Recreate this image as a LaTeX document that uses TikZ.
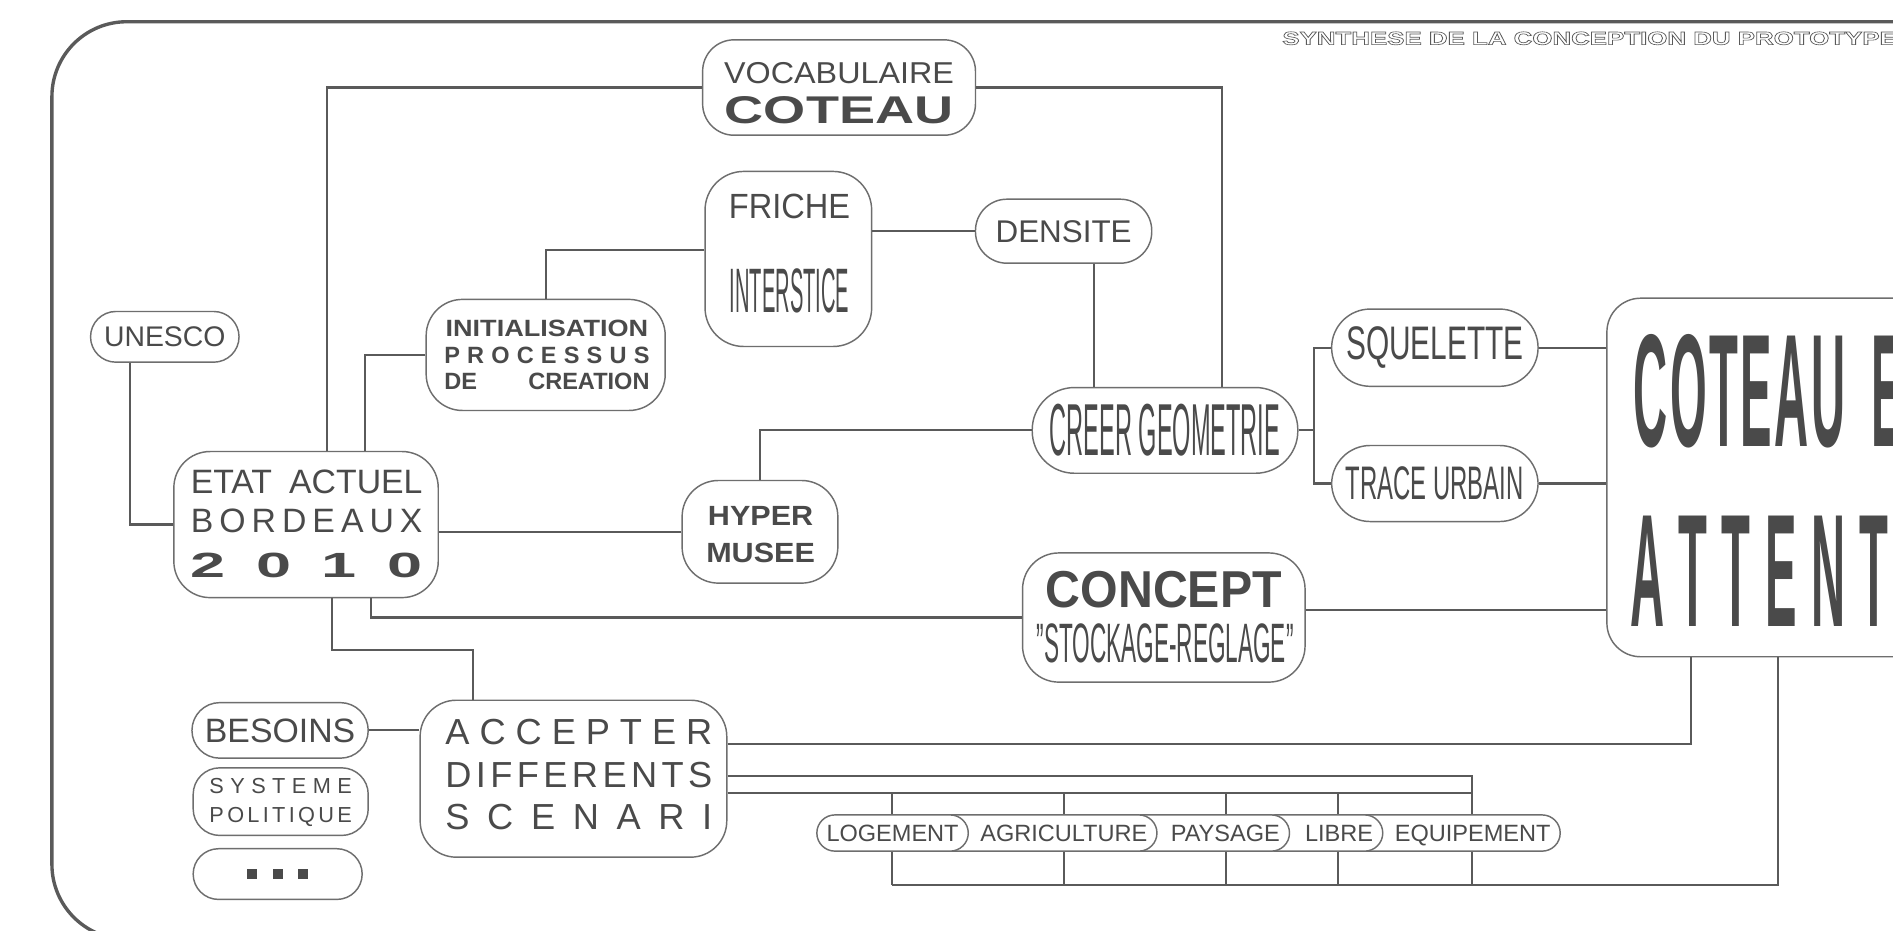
\documentclass[tikz,border=0pt]{standalone}
\usepackage{fontspec}
\setmainfont{Liberation Sans}
\usepackage{graphicx}
\usetikzlibrary{calc}
\definecolor{txtc}{HTML}{4A4A4A}
\definecolor{linec}{HTML}{5A5A5A}
\definecolor{boxc}{HTML}{6E6E6E}
\newcommand{\fz}[1]{\fontsize{#1}{#1}\selectfont}
\newcommand{\cx}[2]{\scalebox{#1}[1]{#2}}
\newcommand{\wdg}[1]{\scalebox{1.8}[1]{#1}}
\newcommand{\ctl}[1]{\scalebox{0.294}[1]{#1}}
\newcommand{\spr}[2]{\makebox[#1]{#2}}
\begin{document}
\begin{tikzpicture}[x=1pt,y=-1pt,
  box/.style={draw=boxc, line width=1.2pt, fill=white, inner sep=0pt, rounded corners=#1, text=txtc},
  box/.default=28pt,
  lbl/.style={inner sep=0pt, anchor=base, text=txtc},
  conn/.style={draw=linec, line width=1.8pt},
  frame/.style={draw=linec, line width=2.8pt},
  pill/.style={draw=boxc, line width=1.2pt, fill=white, rounded corners=15pt, minimum height=30pt, inner xsep=8pt, inner ysep=0pt, text height=14pt, text depth=0pt, anchor=west, font=\fz{19.5}, text=txtc}]
\useasboundingbox (0,0) rectangle (1568,771);
\clip (0,0) rectangle (1568,771);
\fill[white] (0,0) rectangle (1568,771);

% outer frame and title
\draw[frame, rounded corners=62pt] (43,18) rectangle (1700,778);
\node[lbl, anchor=base west, font=\bfseries\fz{15.3}, text=linec] (title) at (1062,37)
  {\special{pdf:literal direct 1 Tr 0.5 w}\cx{1.4}{SYNTHESE DE LA CONCEPTION DU PROTOTYPE}\special{pdf:literal direct 0 Tr}};

% boxes
\node[box=21pt, minimum width=123pt, minimum height=42pt, font=\fz{23.5}] (unesco) at (136.5,279) {UNESCO};

\node[box=26pt, minimum width=226pt, minimum height=79pt] (voc) at (695,72.5) {};
\node[lbl, font=\fz{25}] (voc1) at (695,69) {\cx{1.07}{VOCABULAIRE}};
\node[lbl, font=\bfseries\fz{32}] (voc2) at (695,102) {\cx{1.4}{COTEAU}};

\node[box=32pt, minimum width=138pt, minimum height=145pt] (friche) at (653,214.5) {};
\node[lbl, font=\fz{29}] (friche1) at (654,181) {\cx{0.93}{FRICHE}};
\node[lbl, font=\fz{52}] (friche2) at (654,259) {\cx{0.32}{INTERSTICE}};

\node[box=26pt, minimum width=146pt, minimum height=53pt, font=\fz{26}] (densite) at (881,191.5) {DENSITE};

\node[box=30pt, minimum width=198pt, minimum height=92pt] (init) at (452,294) {};
\node[lbl, font=\bfseries\fz{19.5}] (init1) at (453,279) {\cx{1.15}{INITIALISATION}};
\node[lbl, font=\bfseries\fz{19.5}] (init2) at (453,301) {\spr{170pt}{P\hfill R\hfill O\hfill C\hfill E\hfill S\hfill S\hfill U\hfill S}};
\node[lbl, font=\bfseries\fz{19.5}] (init3) at (453,323) {\spr{170pt}{DE\hfill CREATION}};

\node[box=30pt, minimum width=219pt, minimum height=121pt] (etat) at (253.5,434.5) {};
\node[lbl, font=\fz{28}] (etat1) at (254,409) {\spr{192pt}{ETAT\hfill ACTUEL}};
\node[lbl, font=\fz{28}] (etat2) at (254,441) {\spr{192pt}{B\hfill O\hfill R\hfill D\hfill E\hfill A\hfill U\hfill X}};
\node[lbl, font=\bfseries\fz{29}] (etat3) at (254,478) {\spr{192pt}{\wdg{2}\hfill\wdg{0}\hfill\wdg{1}\hfill\wdg{0}}};

\node[box=30pt, minimum width=129pt, minimum height=85pt] (hyper) at (629.5,440.5) {};
\node[lbl, font=\bfseries\fz{23}] (hyper1) at (630,435) {\cx{1.1}{HYPER}};
\node[lbl, font=\bfseries\fz{23}] (hyper2) at (630,466) {\cx{1.1}{MUSEE}};

\node[box=35pt, minimum width=220pt, minimum height=71pt, font=\fz{61}] (creer) at (965,356.5) {\cx{0.32}{CREER GEOMETRIE}};

\node[box=32pt, minimum width=171pt, minimum height=64pt, font=\fz{39}] (sq) at (1188.5,288) {\cx{0.634}{SQUELETTE}};
\node[box=32pt, minimum width=171pt, minimum height=63pt, font=\fz{39}] (tr) at (1188.5,400.5) {\cx{0.507}{TRACE URBAIN}};

\node[box=30pt, minimum width=234pt, minimum height=107pt] (concept) at (964,511.5) {};
\node[lbl, font=\bfseries\fz{43}] (concept1) at (964,503) {\cx{0.93}{CONCEPT}};
\node[lbl, font=\fz{46}] (concept2) at (965,549) {\cx{0.407}{"STOCKAGE-REGLAGE"}};

\node[box=28pt, minimum width=400pt, minimum height=297pt] (coteau) at (1531,395.5) {};
\node[lbl, anchor=base west, font=\bfseries\fz{133}] (coteau1) at (1353,370)
  {\ctl{C}\hspace{2pt}\ctl{O}\hspace{2pt}\ctl{T}\hspace{2pt}\ctl{E}\hspace{2pt}\ctl{A}\hspace{2pt}\ctl{U}\hspace{22pt}\ctl{EN}};
\node[lbl, anchor=base west, font=\bfseries\fz{133}] (coteau2) at (1350,519)
  {\ctl{A}\hspace{12pt}\ctl{T}\hspace{12pt}\ctl{T}\hspace{12pt}\ctl{E}\hspace{12pt}\ctl{N}\hspace{12pt}\ctl{T}\hspace{12pt}\ctl{E}};

\node[box=30pt, minimum width=254pt, minimum height=130pt] (accept) at (475,645) {};
\node[lbl, font=\fz{30}] (accept1) at (479.5,617) {\spr{221pt}{A\hfill C\hfill C\hfill E\hfill P\hfill T\hfill E\hfill R}};
\node[lbl, font=\fz{30}] (accept2) at (479.5,652) {\spr{221pt}{D\hfill I\hfill F\hfill F\hfill E\hfill R\hfill E\hfill N\hfill T\hfill S}};
\node[lbl, font=\fz{30}] (accept3) at (479.5,687) {\spr{221pt}{S\hfill C\hfill E\hfill N\hfill A\hfill R\hfill I}};

\node[box=23pt, minimum width=146pt, minimum height=46pt, font=\fz{28}] (besoins) at (232,605) {BESOINS};
\node[box=22pt, minimum width=145pt, minimum height=56pt] (systeme) at (232.5,664) {};
\node[lbl, font=\fz{18}] (systeme1) at (232.5,657.5) {\spr{118pt}{S\hfill Y\hfill S\hfill T\hfill E\hfill M\hfill E}};
\node[lbl, font=\fz{18}] (systeme2) at (232.5,681.5) {\spr{118pt}{P\hfill O\hfill L\hfill I\hfill T\hfill I\hfill Q\hfill U\hfill E}};
\node[box=21pt, minimum width=140pt, minimum height=42pt] (dots) at (230,724)
  {\color{txtc}\rule{8pt}{8pt}\hspace{13pt}\rule{8pt}{8pt}\hspace{13pt}\rule{8pt}{8pt}};

% helper coordinates
\coordinate (et1) at ($(etat.north)+(17.5,0)$);
\coordinate (et2) at ($(etat.north)+(48.5,0)$);
\coordinate (eb1) at ($(etat.south)+(21.5,0)$);
\coordinate (eb2) at ($(etat.south)+(53.5,0)$);
\coordinate (cr1) at ($(creer.north)+(47,0)$);
\coordinate (dn) at ($(densite.south)+(25,0)$);
\coordinate (fw) at ($(friche.west)+(0,-7.5)$);
\coordinate (us) at ($(unesco.south)+(-28.5,0)$);
\coordinate (an) at ($(accept.north)+(-83,0)$);
\coordinate (ae1) at ($(accept.east)+(0,-29)$);
\coordinate (ae2) at ($(accept.east)+(0,-2)$);
\coordinate (ae3) at ($(accept.east)+(0,12)$);
\coordinate (ce) at ($(concept.east)+(0,-6.5)$);
\coordinate (cb1) at ($(coteau.south)+(-130,0)$);
\coordinate (cb2) at ($(coteau.south)+(-58,0)$);
\coordinate (t1) at (738.7,733);
\coordinate (t2) at (881.3,733);
\coordinate (t3) at (1015.8,733);
\coordinate (t4) at (1108.6,733);
\coordinate (t5) at (1219.3,733);

% connectors
\draw[conn] (voc.west) -| (et1);
\draw[conn] (voc.east) -| (cr1);
\draw[conn] (fw) -| (init.north);
\draw[conn] (densite.west) -- (densite.west -| friche.east);
\draw[conn] (dn) -- (dn |- creer.north);
\draw[conn] (init.west) -| (et2);
\draw[conn] (us) |- (etat.west);
\draw[conn] (hyper.west) -- (hyper.west -| etat.east);
\draw[conn] (hyper.north) |- (creer.west);
\draw[conn] (eb2) |- (concept.west);
\draw[conn] (eb1) -- ++(0,43) -| (an);
\draw[conn] (creer.east) -- ++(13,0) coordinate (br);
\draw[conn] (sq.west) -| (br) |- (tr.west);
\draw[conn] (sq.east) -- (sq.east -| coteau.west);
\draw[conn] (tr.east) -- (tr.east -| coteau.west);
\draw[conn] (ce) -- (ce -| coteau.west);
\draw[conn] (besoins.east) -- (besoins.east -| accept.west);
\draw[conn] (ae1) -| (cb1);
\draw[conn] (ae2) -- (ae2 -| t5) -- (ae3 -| t5);
\draw[conn] (ae3) -- (ae3 -| t5);
\foreach \t in {t1,t2,t3,t4,t5} {\draw[conn] (ae3 -| \t) -- (\t);}
\draw[conn] (t1) -| (cb2);

% pills (right to left so each covers the next one's left end)
\node[pill] (p5) at (1114.8,690) {\hspace{32pt}EQUIPEMENT};
\node[pill] (p4) at (1040.4,690) {\hspace{32pt}LIBRE};
\node[pill] (p3) at (929.2,690) {\hspace{32pt}PAYSAGE};
\node[pill] (p2) at (771.4,690) {\hspace{32pt}AGRICULTURE};
\node[pill] (p1) at (676,690) {LOGEMENT};
\end{tikzpicture}
\end{document}
